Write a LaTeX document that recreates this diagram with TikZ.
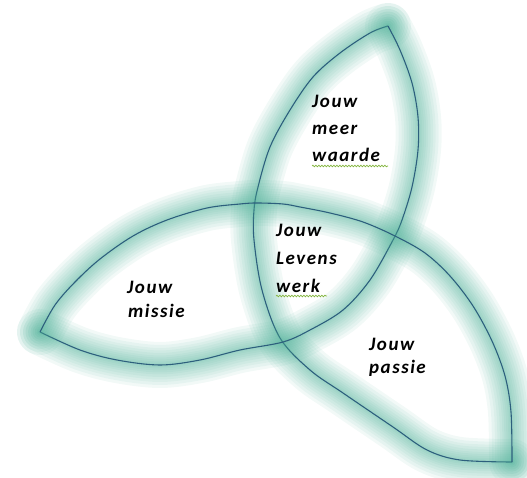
\documentclass[tikz,border=0pt]{standalone}
\usepackage{fontspec}
\setmainfont{Carlito}
\newfontfamily\lblfont[LetterSpace=8]{Carlito}
\usetikzlibrary{decorations.pathmorphing}
\definecolor{glow}{RGB}{75,175,150}
\definecolor{edge}{RGB}{45,95,125}
\definecolor{squig}{RGB}{130,180,60}
\tikzset{
  gl/.style={preaction={draw=glow,line width=#1,opacity=.075,line cap=round,line join=round}},
  glowy/.style={
    gl=46pt,gl=40pt,gl=34pt,gl=29pt,gl=24pt,gl=19pt,gl=15pt,gl=11pt,gl=7pt,gl=4pt,
    draw=edge,line width=1.1pt},
  lbl/.style={anchor=base west,inner sep=0pt,font=\lblfont\bfseries\itshape\fontsize{19}{23}\selectfont,text=black},
  squiggle/.style={draw=squig,line width=0.7pt,decorate,decoration={snake,amplitude=0.8pt,segment length=3pt}}
}
\begin{document}
\begin{tikzpicture}[x=1pt,y=-1pt]
\useasboundingbox (0,0) rectangle (527,478);
% arc A: top tip to bottom-right tip
\draw[glowy] plot[smooth,tension=0.55] coordinates {(388,26) (370,33) (340,53) (313,77) (290,110) (270,147) (258,187) (254,210) (254,240) (262,290) (280,338) (310,370) (343,393) (393,427) (427,450) (460,460) (512,462)};
% arc B: top tip to left tip
\draw[glowy] plot[smooth,tension=0.55] coordinates {(388,26) (400,50) (412,83) (418,117) (418,150) (412,187) (402,220) (393,240) (370,280) (343,310) (310,330) (283,342) (240,350) (200,360) (160,365) (117,360) (80,350) (40,332)};
% arc C: left tip to bottom-right tip
\draw[glowy] plot[smooth,tension=0.55] coordinates {(40,332) (55,305) (75,282) (100,259) (133,236) (167,220) (207,208) (240,204) (257,203) (283,204) (300,207) (330,213) (363,222) (395,236) (425,253) (450,276) (473,306) (492,341) (505,376) (511,412) (512,462)};
% labels
\node[lbl] (t1) at (312,108) {Jouw};
\node[lbl] (t2) at (312,135) {meer};
\node[lbl] (t3) at (312,162) {waarde};
\node[lbl] (c1) at (276,237) {Jouw};
\node[lbl] (c2) at (276,265) {Levens};
\node[lbl] (c3) at (276,292) {werk};
\node[lbl] (l1) at (127,293) {Jouw};
\node[lbl] (l2) at (128,317) {missie};
\node[lbl] (r1) at (369,350) {Jouw};
\node[lbl] (r2) at (369,373) {passie};
\coordinate (s1a) at (312,166);
\coordinate (s1b) at (388,166);
\coordinate (s2a) at (276,296);
\coordinate (s2b) at (327,296);
\draw[squiggle] (s1a) -- (s1b);
\draw[squiggle] (s2a) -- (s2b);
\end{tikzpicture}
\end{document}
